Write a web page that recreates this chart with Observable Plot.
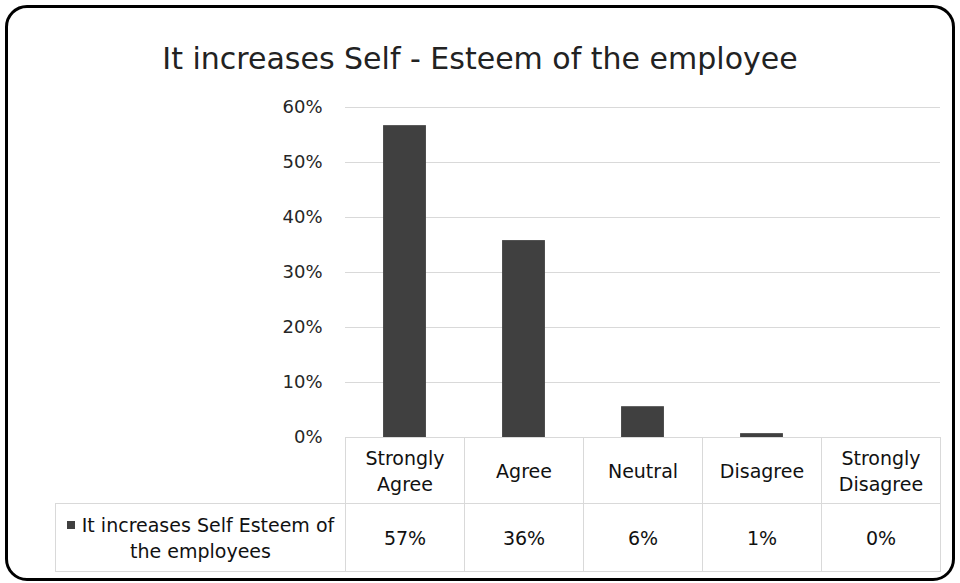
<!DOCTYPE html>
<html>
<head>
<meta charset="utf-8">
<script src="https://cdn.jsdelivr.net/npm/d3@7"></script>
<script src="https://cdn.jsdelivr.net/npm/@observablehq/plot@0.6"></script>
<style>
  body { margin: 0; background: #fff; font-family: "DejaVu Sans", sans-serif; }
  #root { position: relative; width: 960px; height: 583px; overflow: hidden; background: #fff; }
  #frame { position: absolute; left: 5px; top: 5px; width: 950px; height: 576px; box-sizing: border-box;
           border: 3px solid #000; border-radius: 22px; }
  #title { position: absolute; left: 0; top: 34px; width: 960px; text-align: center; font-size: 30px;
           line-height: 50px; color: #222; white-space: nowrap; }
  #chart { position: absolute; left: 0; top: 0; }
  .cell { position: absolute; box-sizing: border-box; display: flex; align-items: center; justify-content: center;
          text-align: center; font-size: 19px; line-height: 26px; color: #111; border: 1px solid #d9d9d9; }
  .key { display: inline-block; width: 8px; height: 8px; background: #404040; margin-right: 7px; vertical-align: 3px; }
</style>
</head>
<body>
<div id="root">
  <div id="frame"></div>
  <div id="title"></div>
  <div id="chart"></div>
</div>
<script>
const titleText = "It increases Self - Esteem of the employee";
const seriesName = "It increases Self Esteem of the employees";
const categories = ["Strongly Agree", "Agree", "Neutral", "Disagree", "Strongly Disagree"];
const values = [0.567, 0.358, 0.056, 0.007, 0];
const yTicks = [0, 0.1, 0.2, 0.3, 0.4, 0.5, 0.6];

const data = categories.map((c, i) => ({category: c, value: values[i]}));
const pct = d3.format(".0%");

document.getElementById("title").textContent = titleText;

const plot = Plot.plot({
  width: 960,
  height: 440,
  marginTop: 107,
  marginBottom: 3,
  marginLeft: 345,
  marginRight: 20,
  style: {fontFamily: "DejaVu Sans, sans-serif", fontSize: "18px", color: "#262626", background: "transparent", overflow: "visible"},
  x: {domain: categories, paddingInner: 0.64, paddingOuter: 0.32, round: false, axis: null},
  y: {domain: [0, 0.6], label: null},
  marks: [
    Plot.gridY(yTicks, {stroke: "#d9d9d9", strokeOpacity: 1}),
    Plot.axisY(yTicks, {tickSize: 0, tickPadding: 23, tickFormat: pct, fontSize: 18, fill: "#262626", label: null}),
    Plot.barY(data, {x: "category", y: "value", fill: "#404040"})
  ]
});
document.getElementById("chart").appendChild(plot);

// Data table aligned to the band scale
const xs = plot.scale("x");
const ys = plot.scale("y");
const step = xs.step;
const bw = xs.bandwidth;
const y0 = ys.apply(0);
const row1H = 66, row2H = 68;
const legendW = 290;
const root = document.getElementById("root");
function addCell(left, top, w, h, html) {
  const d = document.createElement("div");
  d.className = "cell";
  d.style.left = left + "px";
  d.style.top = top + "px";
  d.style.width = w + "px";
  d.style.height = h + "px";
  d.innerHTML = html;
  root.appendChild(d);
  return d;
}
const firstLeft = xs.apply(categories[0]) + bw / 2 - step / 2;
addCell(firstLeft - legendW, y0 + row1H, legendW + 1, row2H + 1,
  '<div style="padding:0 8px"><span class="key"></span>' + seriesName + '</div>');
categories.forEach((c, i) => {
  const left = xs.apply(c) + bw / 2 - step / 2;
  addCell(left, y0, step + 1, row1H + 1, '<div style="padding:0 4px">' + c + '</div>');
  addCell(left, y0 + row1H, step + 1, row2H + 1, pct(values[i]));
});
</script>
</body>
</html>
